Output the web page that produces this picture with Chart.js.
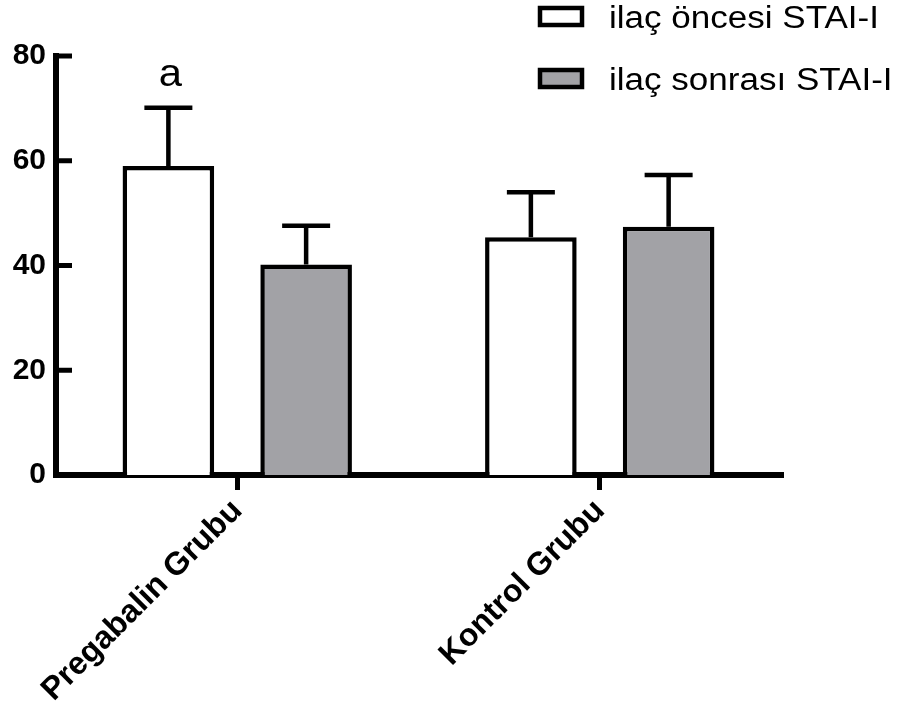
<!DOCTYPE html>
<html>
<head>
<meta charset="utf-8">
<script src="https://cdn.jsdelivr.net/npm/chart.js@4.4.1/dist/chart.umd.min.js"></script>
<style>
  html, body { margin: 0; padding: 0; background: #fff; }
  #wrap { width: 903px; height: 701px; }
</style>
</head>
<body>
<div id="wrap"><canvas id="staiChart" width="903" height="701"></canvas></div>
<script>
// Data
const groups = ['Pregabalin Grubu', 'Kontrol Grubu'];
const seriesNames = ['ilaç öncesi STAI-I', 'ilaç sonrası STAI-I'];
const preValues = [59.0, 45.4];
const postValues = [40.2, 47.4];
const preErrors = [11.1, 8.6];
const postErrors = [7.4, 9.9];
const preMarks = ['a', ''];
const postMarks = ['', ''];
const yTicks = [0, 20, 40, 60, 80];

const FONT = '"Liberation Sans", Arial, sans-serif';
const GREY = '#a2a2a6';

// error bars + significance letters, placed with the chart's own scales
const errorBarPlugin = {
    id: 'errorBars',
    afterDatasetsDraw(chart) {
        const ctx = chart.ctx;
        const y = chart.scales.y;
        const errs = [preErrors, postErrors];
        const marks = [preMarks, postMarks];
        chart.data.datasets.forEach((ds, di) => {
            const meta = chart.getDatasetMeta(di);
            meta.data.forEach((bar, i) => {
                const top = y.getPixelForValue(ds.data[i]);
                const end = y.getPixelForValue(ds.data[i] + errs[di][i]);
                ctx.save();
                ctx.strokeStyle = '#000';
                ctx.lineWidth = 4.5;
                ctx.beginPath();
                ctx.moveTo(bar.x, top);
                ctx.lineTo(bar.x, end);
                ctx.moveTo(bar.x - 24, end);
                ctx.lineTo(bar.x + 24, end);
                ctx.stroke();
                if (marks[di][i]) {
                    ctx.fillStyle = '#000';
                    ctx.font = '38px ' + FONT;
                    ctx.textAlign = 'center';
                    ctx.textBaseline = 'alphabetic';
                    ctx.translate(bar.x + 2, end - 22);
                    ctx.scale(1.1, 1);
                    ctx.fillText(marks[di][i], 0, 0);
                }
                ctx.restore();
            });
        });
    }
};

// y ticks point into the plot, as in the original
const innerTicksPlugin = {
    id: 'innerTicks',
    afterDraw(chart) {
        const ctx = chart.ctx;
        const y = chart.scales.y;
        const left = chart.chartArea.left;
        ctx.save();
        ctx.strokeStyle = '#000';
        ctx.lineWidth = 5;
        y.ticks.forEach(t => {
            const py = y.getPixelForValue(t.value);
            ctx.beginPath();
            ctx.moveTo(left, py);
            ctx.lineTo(left + 16, py);
            ctx.stroke();
        });
        ctx.restore();
    }
};

// legend in the top-right corner
const legendPlugin = {
    id: 'cornerLegend',
    afterDraw(chart) {
        const ctx = chart.ctx;
        chart.data.datasets.forEach((ds, i) => {
            const top = 8 + i * 62;
            ctx.save();
            ctx.fillStyle = ds.backgroundColor;
            ctx.fillRect(540, top, 42, 17);
            ctx.strokeStyle = '#000';
            ctx.lineWidth = 4.5;
            ctx.strokeRect(540, top, 42, 17);
            ctx.fillStyle = '#000';
            ctx.font = '31px ' + FONT;
            ctx.textBaseline = 'alphabetic';
            ctx.translate(609, top + 20);
            ctx.scale(1.13, 1);
            ctx.fillText(ds.label, 0, 0);
            ctx.restore();
        });
    }
};

const config = {
    type: 'bar',
    data: {
        labels: groups,
        datasets: [
            {
                label: seriesNames[0],
                data: preValues,
                backgroundColor: '#ffffff',
                borderColor: '#000',
                borderWidth: 4.5
            },
            {
                label: seriesNames[1],
                data: postValues,
                backgroundColor: GREY,
                borderColor: '#000',
                borderWidth: 4.5
            }
        ]
    },
    options: {
        responsive: false,
        animation: false,
        categoryPercentage: 0.76,
        barPercentage: 0.665,
        layout: { padding: { top: 56, right: 122, left: 0, bottom: 0 } },
        scales: {
            x: {
                grid: {
                    display: true,
                    drawOnChartArea: false,
                    offset: false,
                    tickLength: 15,
                    lineWidth: 5,
                    color: '#000'
                },
                border: { display: true, width: 6, color: '#000' },
                ticks: {
                    color: '#000',
                    minRotation: 45,
                    maxRotation: 45,
                    padding: 2,
                    font: { family: FONT, size: 32, weight: 'bold' }
                },
                afterFit: s => { s.height = 226; }
            },
            y: {
                min: 0,
                max: 80,
                afterBuildTicks: s => { s.ticks = yTicks.map(v => ({ value: v })); },
                grid: { display: false, drawTicks: false },
                border: { display: true, width: 6, color: '#000' },
                ticks: {
                    color: '#000',
                    padding: 10,
                    font: { family: FONT, size: 30, weight: 'bold' }
                },
                afterFit: s => { s.width = 56; }
            }
        },
        plugins: {
            legend: { display: false },
            tooltip: { enabled: false }
        }
    },
    plugins: [errorBarPlugin, innerTicksPlugin, legendPlugin]
};

const staiChart = new Chart(document.getElementById('staiChart').getContext('2d'), config);
</script>
</body>
</html>
